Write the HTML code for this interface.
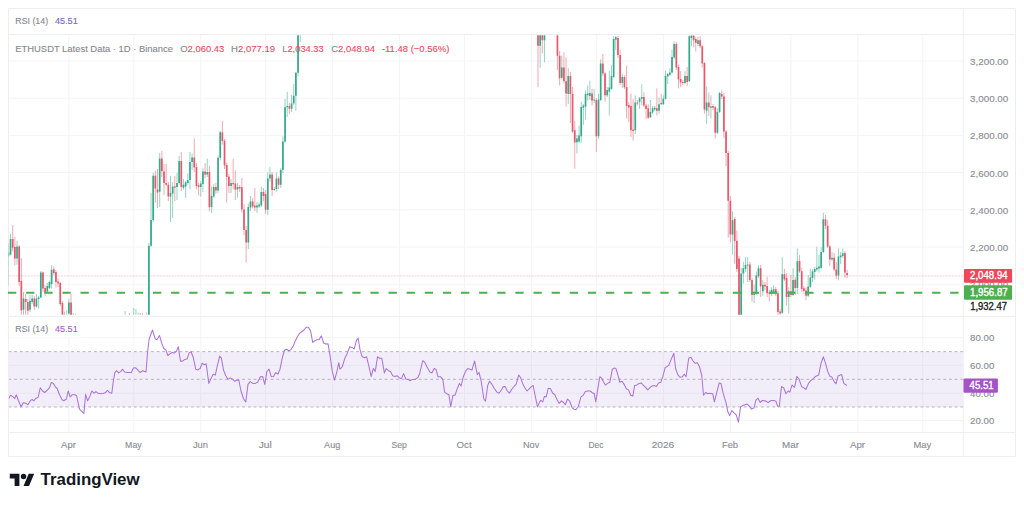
<!DOCTYPE html><html><head><meta charset="utf-8"><title>ETHUSDT</title><style>
html,body{margin:0;padding:0;background:#fff;}body{width:1024px;height:505px;overflow:hidden;position:relative;font-family:"Liberation Sans",sans-serif;}
svg{position:absolute;left:0;top:0;}text{font-family:"Liberation Sans",sans-serif;}
</style></head><body>
<svg width="1024" height="505" viewBox="0 0 1024 505">
<defs><clipPath id="mp"><rect x="8.5" y="35.3" width="954.7" height="279.5"/></clipPath>
<clipPath id="rp"><rect x="8.5" y="317" width="954.7" height="115"/></clipPath><filter id="bl" x="0" y="0" width="1024" height="505" filterUnits="userSpaceOnUse"><feGaussianBlur stdDeviation="0.35"/></filter></defs>
<path d="M68.9 34.5V432M133.8 34.5V432M200.8 34.5V432M265.6 34.5V432M332.6 34.5V432M399.6 34.5V432M464.5 34.5V432M531.5 34.5V432M596.4 34.5V432M663.4 34.5V432M730.4 34.5V432M790.9 34.5V432M857.9 34.5V432M922.8 34.5V432M8.5 61.0H963.2M8.5 98.2H963.2M8.5 135.4H963.2M8.5 172.6H963.2M8.5 209.8H963.2M8.5 247.0H963.2M8.5 284.2H963.2M8.5 337.6H963.2M8.5 365.4H963.2M8.5 393.2H963.2M8.5 420.6H963.2" stroke="#f4f4f6" stroke-width="1" fill="none"/>
<rect x="8.5" y="351.6" width="954.7" height="55.4" fill="#7e57c2" fill-opacity="0.1"/>
<path d="M8.5 351.6H963.2" stroke="#8d9098" stroke-width="0.8" stroke-dasharray="2.8 2.9" stroke-opacity="0.8"/>
<path d="M8.5 379.3H963.2" stroke="#8d9098" stroke-width="0.8" stroke-dasharray="2.8 2.9" stroke-opacity="0.8"/>
<path d="M8.5 407H963.2" stroke="#8d9098" stroke-width="0.8" stroke-dasharray="2.8 2.9" stroke-opacity="0.8"/>
<path d="M8.5 8.5H1015.5V456.5H8.5ZM8.5 34.5H1015.5M8.5 316.5H1015.5M8.5 432.5H1015.5M963.2 8.5V456.5" stroke="#eeeef1" stroke-width="1" fill="none"/>
<g clip-path="url(#mp)"><g filter="url(#bl)">
<path d="M8.37 243.0V285.5M10.53 233.8V255.5M17.02 240.8V264.7M23.50 292.0V330.0M29.99 295.0V312.0M32.15 295.0V304.0M36.47 294.0V307.6M38.64 296.0V308.6M40.80 271.0V298.0M47.28 283.0V292.5M49.44 280.5V289.0M51.61 265.3V288.5M66.74 310.6V330.0M68.90 298.6V330.0M73.22 313.0V330.0M125.10 311.0V330.0M133.75 308.0V330.0M135.91 309.0V330.0M140.24 313.0V330.0M148.88 243.0V330.0M151.04 193.0V247.0M153.21 172.6V222.0M159.69 153.0V207.0M170.50 175.8V222.0M172.66 182.3V218.0M176.99 172.8V200.0M179.15 156.0V184.5M183.47 178.8V189.4M185.63 181.0V197.8M187.79 173.4V184.7M189.96 152.0V189.4M192.12 153.5V170.0M200.76 181.0V196.6M202.93 168.3V192.0M207.25 158.6V177.0M211.57 186.5V213.0M213.73 184.0V198.0M218.06 155.5V193.0M220.22 130.8V160.5M231.03 179.3V193.0M237.51 183.0V197.8M248.32 203.5V249.0M250.48 196.0V211.0M256.97 202.0V212.8M259.13 202.5V208.0M261.29 186.8V207.0M267.78 172.3V215.0M269.94 167.0V181.6M274.26 186.8V191.0M276.42 172.3V191.5M280.75 168.0V188.0M282.91 136.3V173.0M285.07 99.0V143.0M287.23 91.8V117.0M291.56 95.0V112.0M293.72 84.0V105.0M295.88 72.0V110.8M298.04 -50.0V76.0M300.20 -50.0V42.0M540.15 -50.0V67.6M544.47 -50.0V62.3M561.77 55.8V79.5M568.25 68.2V104.0M576.90 135.0V153.3M579.06 125.6V143.0M581.22 101.8V142.6M583.38 104.0V125.0M585.55 90.5V119.6M587.71 85.4V100.6M589.87 80.7V100.0M594.19 88.8V103.0M598.52 93.5V139.0M600.68 59.3V101.0M607.16 87.0V97.0M609.33 70.6V115.5M611.49 65.3V90.0M613.65 36.2V78.0M615.81 36.0V50.0M622.30 73.6V87.8M635.27 95.3V134.0M639.59 97.0V109.0M641.75 84.3V105.4M650.40 100.0V118.0M652.56 106.0V114.0M654.72 106.0V111.0M659.04 97.7V113.7M663.37 95.3V105.0M665.53 70.6V99.5M667.69 73.0V84.0M669.85 68.2V76.0M672.01 49.8V73.5M674.18 41.5V59.0M684.98 71.2V84.0M689.31 -50.0V82.0M691.47 -50.0V46.3M697.95 36.8V46.0M706.60 86.4V123.8M710.92 95.3V118.4M717.41 108.3V134.0M719.57 92.0V113.0M732.54 211.4V254.6M741.19 268.0V330.0M743.35 261.8V283.4M745.51 257.2V272.0M747.67 257.2V282.0M754.16 284.7V303.0M756.32 271.6V295.0M758.48 265.0V278.0M762.81 280.0V295.8M771.45 287.3V296.0M773.61 285.3V294.0M782.26 257.2V314.0M788.75 287.3V313.4M793.07 268.3V296.0M797.39 248.4V294.0M808.20 275.3V297.0M810.36 268.7V288.0M812.52 269.0V282.0M814.69 266.6V279.7M816.85 246.6V271.4M819.01 255.0V272.6M821.17 247.2V269.0M823.33 212.7V253.0M831.98 252.0V261.0M838.47 248.4V280.3M840.63 252.0V264.0M842.79 248.4V258.0" stroke="#36aa8b" stroke-width="0.7" fill="none" stroke-opacity="0.75"/>
<path d="M12.70 225.0V251.5M14.86 236.8V265.5M19.18 245.0V286.0M21.34 258.0V330.0M25.67 294.0V330.0M27.83 299.0V330.0M34.31 296.0V310.0M42.96 271.5V292.0M45.12 285.3V296.0M53.77 266.4V275.0M55.93 270.0V287.5M58.09 278.6V287.0M60.25 282.0V306.0M62.41 301.0V330.0M64.58 311.5V330.0M71.06 294.0V330.0M75.39 314.0V330.0M129.43 313.0V330.0M138.07 312.5V330.0M142.40 313.0V330.0M146.72 312.5V330.0M155.37 170.7V202.5M157.53 169.0V208.0M161.85 151.0V177.0M164.01 164.0V195.0M166.18 164.0V186.0M168.34 182.0V201.0M174.82 175.8V201.3M181.31 152.0V191.0M194.28 138.3V172.0M196.44 163.0V189.4M198.60 183.0V195.4M205.09 163.0V178.0M209.41 166.0V211.4M215.90 183.0V194.0M222.38 121.0V144.6M224.54 139.0V169.0M226.70 162.5V202.5M228.87 174.0V193.0M233.19 158.8V189.4M235.35 170.4V200.0M239.67 185.0V192.0M241.84 178.0V212.5M244.00 204.0V235.0M246.16 226.0V262.7M252.64 198.3V208.5M254.81 188.0V211.0M263.45 188.0V201.4M265.61 190.0V213.9M272.10 172.0V196.0M278.58 176.4V189.0M289.39 103.0V114.0M537.99 -50.0V87.2M542.31 -50.0V53.4M557.44 -50.0V70.0M559.61 51.0V85.4M563.93 52.2V83.0M566.09 57.5V106.6M570.41 72.0V123.0M572.58 87.0V133.0M574.74 120.8V168.7M592.03 88.8V105.4M596.35 98.0V152.0M602.84 54.0V76.0M605.00 72.0V101.8M617.97 36.0V58.0M620.13 49.8V85.0M624.46 75.3V89.0M626.62 65.8V118.4M628.78 102.0V122.0M630.94 93.5V137.0M633.10 99.4V140.6M637.43 100.0V105.4M643.91 92.3V107.0M646.07 104.0V119.0M648.24 104.2V119.0M656.88 88.4V115.5M661.21 94.0V104.8M676.34 42.0V70.0M678.50 64.7V88.4M680.66 71.2V87.2M682.82 80.0V85.0M687.15 67.0V86.0M693.63 -50.0V47.4M695.79 37.0V51.6M700.12 36.2V48.0M702.28 45.0V67.6M704.44 62.0V113.7M708.76 92.3V116.0M713.09 104.2V110.0M715.25 106.0V138.6M721.73 90.5V99.0M723.90 93.0V138.0M726.06 130.0V166.0M728.22 151.0V237.6M730.38 196.0V242.3M734.70 217.0V263.8M736.87 230.4V272.0M739.03 256.0V330.0M749.84 261.8V282.0M752.00 278.0V301.7M760.64 265.0V297.0M764.97 282.0V290.0M767.13 276.8V297.0M769.29 290.0V301.7M775.78 287.3V296.0M777.94 291.0V330.0M780.10 309.0V330.0M784.42 269.0V281.0M786.58 273.0V305.6M790.91 274.9V297.0M795.23 277.0V295.0M799.55 255.0V273.0M801.72 267.8V292.0M803.88 286.0V294.0M806.04 287.3V300.0M825.50 215.0V229.0M827.66 220.0V248.0M829.82 245.0V266.0M834.14 253.0V271.0M836.30 262.0V279.0M844.95 251.0V278.0M847.11 269.9V277.8" stroke="#e7586c" stroke-width="0.7" fill="none" stroke-opacity="0.75"/>
<path d="M8.37 252.4V256.5M10.53 239.0V254.6M17.02 246.5V258.5M23.50 298.6V309.7M29.99 300.8V309.7M32.15 298.6V302.0M36.47 298.6V306.4M38.64 297.5V299.0M40.80 272.5V297.5M47.28 286.0V291.4M49.44 282.0V288.0M51.61 269.8V284.0M66.74 329.5V330.5M68.90 302.5V313.6M73.22 329.5V330.5M125.10 329.5V330.5M133.75 329.5V330.5M135.91 329.5V330.5M140.24 329.5V330.5M148.88 245.7V330.0M151.04 220.0V245.7M153.21 175.8V220.0M159.69 158.6V191.8M170.50 193.0V196.6M172.66 186.5V193.6M176.99 183.0V187.0M179.15 161.0V183.0M183.47 184.7V187.7M185.63 182.3V186.5M187.79 180.0V183.0M189.96 162.0V180.0M192.12 157.5V162.0M200.76 183.5V187.0M202.93 171.6V184.0M207.25 172.0V174.6M211.57 196.0V207.0M213.73 187.0V196.6M218.06 157.7V190.6M220.22 132.3V157.7M231.03 183.0V186.0M237.51 187.0V189.4M248.32 207.0V242.5M250.48 201.4V207.5M256.97 205.5V207.6M259.13 204.5V206.6M261.29 192.0V205.5M267.78 178.5V209.7M269.94 174.4V178.5M274.26 189.0V190.0M276.42 178.5V189.0M280.75 170.0V184.8M282.91 141.4V170.0M285.07 107.3V141.4M287.23 106.0V107.3M291.56 103.4V108.8M293.72 95.8V103.4M295.88 72.8V95.8M298.04 -50.0V72.8M300.20 -50.0V20.0M540.15 -50.0V45.7M544.47 -50.0V40.3M561.77 67.6V77.7M568.25 76.0V94.0M576.90 138.4V142.2M579.06 135.4V141.4M581.22 107.0V136.3M583.38 105.4V107.8M585.55 94.0V106.6M587.71 93.5V95.3M589.87 93.0V96.0M594.19 99.4V100.6M598.52 99.4V136.3M600.68 63.5V100.0M607.16 90.0V95.3M609.33 87.5V91.7M611.49 76.0V88.7M613.65 39.0V77.0M615.81 37.3V39.7M622.30 77.0V83.0M635.27 102.4V130.3M639.59 98.3V101.8M641.75 97.0V98.8M650.40 112.0V117.3M652.56 108.3V112.5M654.72 107.8V109.5M659.04 104.2V110.7M663.37 98.8V104.2M665.53 76.0V98.8M667.69 74.0V76.5M669.85 72.4V74.8M672.01 57.0V72.4M674.18 43.9V57.5M684.98 76.0V83.0M689.31 36.2V81.3M691.47 35.5V38.0M697.95 40.3V43.9M706.60 102.4V110.7M710.92 106.5V107.8M717.41 112.0V132.7M719.57 93.0V112.0M732.54 220.3V234.6M741.19 273.6V330.0M743.35 268.3V273.6M745.51 265.0V269.0M747.67 264.4V265.6M754.16 293.8V295.0M756.32 275.5V293.8M758.48 268.3V276.2M762.81 284.7V291.2M771.45 290.0V293.8M773.61 289.3V291.9M782.26 274.2V312.8M788.75 291.2V297.0M793.07 280.0V295.0M797.39 261.2V288.0M808.20 286.5V295.8M810.36 277.4V286.8M812.52 271.5V278.0M814.69 269.0V272.0M816.85 267.8V269.6M819.01 266.6V268.4M821.17 252.0V267.8M823.33 219.3V252.0M831.98 257.8V259.6M838.47 256.6V275.6M840.63 255.5V257.3M842.79 253.2V256.0" stroke="#36aa8b" stroke-width="1.7" fill="none"/>
<path d="M12.70 239.0V247.7M14.86 247.0V258.6M19.18 246.4V282.0M21.34 281.0V310.5M25.67 299.0V302.0M27.83 302.0V310.8M34.31 298.6V306.4M42.96 272.5V288.6M45.12 288.0V292.0M53.77 269.2V273.0M55.93 272.0V282.0M58.09 281.5V283.6M60.25 283.0V304.0M62.41 303.0V330.0M64.58 329.5V330.5M71.06 302.5V330.0M75.39 329.5V330.5M129.43 329.5V330.5M138.07 329.5V330.5M142.40 329.5V330.5M146.72 329.5V330.5M155.37 175.8V188.6M157.53 189.4V192.4M161.85 158.6V171.0M164.01 171.6V183.0M166.18 183.0V184.7M168.34 184.7V196.6M174.82 186.5V187.7M181.31 161.0V187.0M194.28 157.5V167.5M196.44 167.0V186.0M198.60 185.3V187.0M205.09 171.6V174.6M209.41 172.0V207.0M215.90 187.0V190.6M222.38 132.3V141.0M224.54 140.8V165.5M226.70 165.0V177.0M228.87 176.4V186.0M233.19 183.0V184.2M235.35 183.5V189.4M239.67 187.0V188.5M241.84 187.3V209.5M244.00 209.5V230.0M246.16 230.0V242.5M252.64 201.4V206.5M254.81 205.5V207.6M263.45 192.0V196.0M265.61 194.0V209.7M272.10 174.4V190.0M278.58 178.5V184.8M289.39 106.0V108.8M537.99 -50.0V45.7M542.31 -50.0V40.3M557.44 -50.0V55.8M559.61 55.8V78.3M563.93 67.6V81.3M566.09 81.3V93.5M570.41 76.0V94.0M572.58 94.0V131.5M574.74 130.3V142.6M592.03 93.5V100.6M596.35 100.0V136.3M602.84 63.5V73.6M605.00 73.6V95.3M617.97 38.0V55.0M620.13 55.0V83.0M624.46 77.0V87.2M626.62 87.0V106.0M628.78 105.0V107.5M630.94 106.0V130.3M633.10 129.5V131.0M637.43 102.4V103.6M643.91 97.0V105.4M646.07 105.4V109.0M648.24 108.3V117.8M656.88 108.3V110.7M661.21 103.0V104.2M676.34 43.9V67.6M678.50 67.0V79.5M680.66 79.0V82.5M682.82 82.0V83.0M687.15 76.0V82.0M693.63 35.5V40.3M695.79 39.0V42.7M700.12 40.3V46.3M702.28 46.3V63.5M704.44 63.0V109.5M708.76 102.4V107.2M713.09 106.0V107.8M715.25 107.2V132.7M721.73 94.0V96.5M723.90 96.5V131.5M726.06 131.5V153.0M728.22 153.0V200.8M730.38 200.8V234.6M734.70 219.0V241.0M736.87 241.0V269.0M739.03 258.5V330.0M749.84 264.4V280.0M752.00 280.0V295.0M760.64 268.3V286.6M764.97 284.7V286.6M767.13 286.0V293.2M769.29 292.5V293.8M775.78 289.3V293.8M777.94 293.2V312.0M780.10 311.5V313.4M784.42 274.2V279.5M786.58 278.0V297.0M790.91 291.2V295.0M795.23 279.7V288.0M799.55 261.0V271.5M801.72 271.2V289.0M803.88 288.3V291.0M806.04 290.5V295.8M825.50 219.3V225.8M827.66 225.8V246.6M829.82 246.6V259.6M834.14 257.7V269.6M836.30 269.6V275.6M844.95 253.0V272.6M847.11 273.0V275.1" stroke="#e7586c" stroke-width="1.7" fill="none"/>
</g></g>
<path d="M8.5 275.9H963.2" stroke="#f23645" stroke-width="0.9" stroke-dasharray="0.8 0.7" stroke-opacity="0.36"/>
<path d="M8 292.8H963.2" stroke="#4caf50" stroke-width="2.1" stroke-dasharray="8.3 9.82"/>
<g clip-path="url(#rp)"><polyline points="8.7,398.6 10.5,395.3 12.6,396.4 14.8,398.6 16.3,394.7 18.5,400.8 21.1,406.7 23.5,402.5 26.1,403.4 27.9,404.7 30.5,400.4 32.2,399.5 33.8,400.8 35.9,398.2 38.1,397.5 40.3,387.7 42.5,391.0 44.7,392.5 47.5,389.9 49.7,387.3 51.2,382.5 53.4,383.4 55.6,387.3 57.1,388.2 59.3,394.3 62.1,399.7 63.8,400.8 66.4,399.0 68.2,391.0 70.2,396.9 72.3,394.7 75.2,394.7 76.7,396.0 78.4,404.1 79.5,409.1 83.9,413.4 85.6,394.3 87.6,400.8 89.8,396.4 91.9,391.0 94.1,393.2 95.9,391.6 98.0,393.2 100.7,393.8 103.5,393.2 105.7,392.5 107.4,390.3 109.4,392.5 111.8,393.2 113.3,381.2 114.8,372.9 116.6,370.7 118.7,372.9 120.9,371.4 122.7,369.2 124.6,372.0 127.5,372.5 131.4,372.5 133.3,368.1 135.5,367.7 137.7,369.9 139.9,372.5 142.7,370.7 146.0,372.0 147.5,352.9 149.2,338.7 152.5,330.0 155.1,338.7 156.9,339.8 159.5,335.4 161.7,343.1 163.8,348.5 166.0,350.2 167.8,355.5 170.0,353.9 172.2,352.4 174.4,352.9 176.5,351.1 178.3,346.8 180.5,361.1 182.6,361.1 184.8,359.4 187.0,359.0 189.2,352.9 191.1,351.8 193.5,358.3 195.7,369.2 197.9,369.9 200.1,368.5 202.2,363.3 204.4,364.8 206.2,363.8 208.8,383.4 211.0,378.6 213.1,374.2 215.3,375.1 217.5,364.8 219.7,356.1 221.4,358.3 223.6,370.3 225.8,375.7 228.0,379.4 230.1,377.9 232.3,379.0 234.5,381.2 236.7,380.1 238.8,380.1 241.0,391.0 243.6,399.0 245.8,401.9 248.0,384.4 250.2,381.6 252.8,383.4 255.4,383.4 257.6,382.3 260.4,376.8 262.6,376.4 264.8,384.4 266.9,371.4 269.1,369.2 271.3,376.8 273.5,376.4 275.7,372.5 277.8,374.2 280.0,369.2 282.2,358.3 284.4,350.2 286.6,349.2 288.7,350.7 290.9,349.6 293.1,346.3 295.3,340.9 297.5,336.5 299.6,333.3 301.8,331.5 304.0,330.0 306.2,327.2 308.3,327.2 310.5,330.6 312.7,342.4 314.9,340.9 317.1,339.8 319.2,339.4 321.4,335.9 323.6,343.1 325.8,344.1 328.0,343.7 330.1,356.1 332.3,371.4 334.5,380.1 336.7,372.5 338.8,362.7 340.0,369.2 342.2,367.0 344.8,358.3 347.0,353.9 349.8,346.8 352.0,347.4 354.2,348.9 356.3,340.9 358.1,338.0 360.0,349.6 362.2,356.8 364.4,357.7 366.6,356.8 368.8,365.9 371.2,376.4 373.3,368.5 375.3,371.4 377.5,356.8 379.7,358.3 381.8,358.3 384.4,372.9 386.2,368.5 388.4,370.7 390.5,371.4 392.7,375.7 394.9,376.4 397.1,375.7 399.3,377.9 401.4,378.6 403.6,373.6 405.8,379.0 408.0,379.4 410.2,380.7 412.3,379.4 415.2,379.4 418.0,377.3 419.5,374.2 422.8,360.5 425.0,362.7 427.1,367.0 429.8,372.0 431.9,372.9 434.1,368.5 435.9,369.2 438.0,376.8 440.7,376.8 442.8,379.4 444.6,392.1 446.8,393.8 448.9,394.7 450.7,406.9 452.9,395.3 455.0,395.3 457.2,388.8 459.4,383.4 461.1,386.0 463.3,376.8 465.5,371.4 467.7,368.5 469.8,369.2 472.0,369.9 474.6,361.1 477.3,374.6 479.0,372.5 481.2,381.2 483.8,399.0 485.5,401.2 487.7,385.5 489.5,381.2 491.6,383.8 494.2,388.2 496.9,392.1 499.0,393.2 501.2,390.3 503.4,386.6 505.1,386.6 507.3,391.0 509.5,393.2 510.0,392.1 512.2,388.8 514.4,386.0 516.1,384.4 518.7,375.1 520.5,377.3 522.6,383.4 524.8,387.7 527.0,391.0 529.2,388.8 531.4,386.6 533.1,385.5 535.3,396.4 537.5,406.9 539.6,401.9 540.9,400.4 542.7,401.9 544.4,396.4 546.2,396.9 548.3,388.2 550.5,388.8 552.7,393.2 554.9,394.7 557.1,399.7 559.2,403.4 561.4,400.8 563.6,402.5 565.3,404.7 567.5,399.0 569.7,401.2 571.9,407.3 574.1,409.5 576.2,409.5 578.4,406.2 581.0,396.9 583.2,395.3 585.4,391.6 588.0,391.0 590.2,391.0 592.8,393.2 594.1,393.2 595.8,401.9 598.0,387.7 599.8,376.8 601.5,377.9 603.7,382.3 605.4,385.1 607.6,383.4 609.8,382.3 612.4,369.2 614.1,368.1 615.9,368.5 618.1,375.7 619.8,382.3 622.0,381.2 624.2,384.4 626.3,388.8 628.5,389.9 630.7,395.3 632.9,396.0 634.6,385.5 636.8,385.1 639.0,383.4 641.2,382.9 643.3,385.1 645.5,387.3 647.7,389.9 649.9,387.7 652.0,386.0 654.2,385.5 656.4,386.6 658.6,382.9 660.8,382.3 662.9,376.4 665.1,367.7 667.3,366.4 669.0,364.8 671.2,359.4 673.8,353.3 675.6,368.5 677.8,374.6 679.9,377.3 682.2,376.8 684.4,374.2 686.1,376.8 688.7,358.3 690.9,357.2 693.1,361.1 695.3,363.3 697.4,362.7 699.6,367.0 701.8,375.7 703.5,395.3 705.7,392.5 707.9,393.8 710.1,393.2 712.7,393.8 714.4,401.9 716.6,393.2 719.2,382.9 721.0,383.4 723.1,393.2 725.8,401.9 727.9,412.1 729.7,415.6 731.9,410.6 734.0,412.8 736.2,414.9 738.4,422.1 740.6,406.9 742.7,405.6 744.9,404.7 747.1,404.1 749.3,406.2 751.5,409.1 754.1,407.8 755.8,400.4 758.0,398.2 760.2,402.5 762.4,400.4 765.0,400.8 768.2,402.5 771.1,400.4 773.7,400.4 775.9,401.2 777.6,406.2 779.3,406.2 781.5,386.6 783.7,387.7 785.9,393.8 788.1,391.0 789.8,392.1 792.0,385.1 794.6,387.3 796.8,376.4 799.0,379.0 801.6,386.6 803.7,387.7 805.9,389.5 808.5,383.4 810.7,380.7 813.3,378.6 815.5,376.4 818.6,375.1 821.2,362.7 823.4,356.8 825.5,363.3 827.7,371.4 829.9,376.4 831.6,376.8 834.2,381.6 836.0,383.8 838.2,375.7 841.7,374.6 843.8,383.4 846.9,385.5" fill="none" stroke="#ab74d8" stroke-width="1.05" stroke-linejoin="round"/></g>
<text x="970.1" y="64.9" fill="#888b93" font-size="9.9" stroke="#888b93" stroke-width="0.12" textLength="38.2" lengthAdjust="spacingAndGlyphs">3,200.00</text>
<text x="970.1" y="102.1" fill="#888b93" font-size="9.9" stroke="#888b93" stroke-width="0.12" textLength="38.2" lengthAdjust="spacingAndGlyphs">3,000.00</text>
<text x="970.1" y="139.3" fill="#888b93" font-size="9.9" stroke="#888b93" stroke-width="0.12" textLength="38.2" lengthAdjust="spacingAndGlyphs">2,800.00</text>
<text x="970.1" y="176.5" fill="#888b93" font-size="9.9" stroke="#888b93" stroke-width="0.12" textLength="38.2" lengthAdjust="spacingAndGlyphs">2,600.00</text>
<text x="970.1" y="213.7" fill="#888b93" font-size="9.9" stroke="#888b93" stroke-width="0.12" textLength="38.2" lengthAdjust="spacingAndGlyphs">2,400.00</text>
<text x="970.1" y="250.9" fill="#888b93" font-size="9.9" stroke="#888b93" stroke-width="0.12" textLength="38.2" lengthAdjust="spacingAndGlyphs">2,200.00</text>
<text x="970.1" y="341.0" fill="#888b93" font-size="9.9" stroke="#888b93" stroke-width="0.12" textLength="24.2" lengthAdjust="spacingAndGlyphs">80.00</text>
<text x="970.1" y="368.8" fill="#888b93" font-size="9.9" stroke="#888b93" stroke-width="0.12" textLength="24.2" lengthAdjust="spacingAndGlyphs">60.00</text>
<text x="970.1" y="396.6" fill="#888b93" font-size="9.9" stroke="#888b93" stroke-width="0.12" textLength="24.2" lengthAdjust="spacingAndGlyphs">40.00</text>
<text x="970.1" y="424.0" fill="#888b93" font-size="9.9" stroke="#888b93" stroke-width="0.12" textLength="24.2" lengthAdjust="spacingAndGlyphs">20.00</text>
<text x="970.1" y="288.1" fill="#888b93" font-size="9.9" stroke="#888b93" stroke-width="0.12" textLength="38.2" lengthAdjust="spacingAndGlyphs">2,000.00</text>
<rect x="964" y="268.9" width="48.1" height="13.9" rx="1" fill="#f0465a"/>
<text x="970" y="279.4" fill="#fff" font-size="10.1" stroke="#fff" stroke-width="0.35" textLength="37.7" lengthAdjust="spacingAndGlyphs">2,048.94</text>
<rect x="964" y="285.3" width="48.1" height="14.4" rx="1" fill="#4caf50"/>
<text x="970" y="296.1" fill="#fff" font-size="10.1" stroke="#fff" stroke-width="0.35" textLength="37.7" lengthAdjust="spacingAndGlyphs">1,956.87</text>
<text x="970.2" y="310.4" fill="#1c1f28" font-size="10.1" stroke="#1c1f28" stroke-width="0.35" textLength="36.8" lengthAdjust="spacingAndGlyphs">1,932.47</text>
<rect x="963.5" y="378.5" width="34.4" height="14.2" rx="1" fill="#a653c8"/>
<text x="969.6" y="389.3" fill="#fff" font-size="10.1" stroke="#fff" stroke-width="0.35" textLength="24" lengthAdjust="spacingAndGlyphs">45.51</text>
<text x="61.1" y="448.3" fill="#888b93" font-size="9.8" stroke="#888b93" stroke-width="0.12" textLength="14.7" lengthAdjust="spacingAndGlyphs">Apr</text>
<text x="125.1" y="448.3" fill="#888b93" font-size="9.8" stroke="#888b93" stroke-width="0.12" textLength="16.6" lengthAdjust="spacingAndGlyphs">May</text>
<text x="192.9" y="448.3" fill="#888b93" font-size="9.8" stroke="#888b93" stroke-width="0.12" textLength="15" lengthAdjust="spacingAndGlyphs">Jun</text>
<text x="258.7" y="448.3" fill="#888b93" font-size="9.8" stroke="#888b93" stroke-width="0.12" textLength="13.1" lengthAdjust="spacingAndGlyphs">Jul</text>
<text x="324.1" y="448.3" fill="#888b93" font-size="9.8" stroke="#888b93" stroke-width="0.12" textLength="16.2" lengthAdjust="spacingAndGlyphs">Aug</text>
<text x="391.4" y="448.3" fill="#888b93" font-size="9.8" stroke="#888b93" stroke-width="0.12" textLength="15.6" lengthAdjust="spacingAndGlyphs">Sep</text>
<text x="456.6" y="448.3" fill="#888b93" font-size="9.8" stroke="#888b93" stroke-width="0.12" textLength="15" lengthAdjust="spacingAndGlyphs">Oct</text>
<text x="523.0" y="448.3" fill="#888b93" font-size="9.8" stroke="#888b93" stroke-width="0.12" textLength="16.3" lengthAdjust="spacingAndGlyphs">Nov</text>
<text x="588.5" y="448.3" fill="#888b93" font-size="9.8" stroke="#888b93" stroke-width="0.12" textLength="15" lengthAdjust="spacingAndGlyphs">Dec</text>
<text x="651.7" y="448.3" fill="#888b93" font-size="9.8" stroke="#888b93" stroke-width="0.12" textLength="22.5" lengthAdjust="spacingAndGlyphs">2026</text>
<text x="721.9" y="448.3" fill="#888b93" font-size="9.8" stroke="#888b93" stroke-width="0.12" textLength="16.2" lengthAdjust="spacingAndGlyphs">Feb</text>
<text x="782.1" y="448.3" fill="#888b93" font-size="9.8" stroke="#888b93" stroke-width="0.12" textLength="16.9" lengthAdjust="spacingAndGlyphs">Mar</text>
<text x="850.0" y="448.3" fill="#888b93" font-size="9.8" stroke="#888b93" stroke-width="0.12" textLength="15" lengthAdjust="spacingAndGlyphs">Apr</text>
<text x="913.5" y="448.3" fill="#888b93" font-size="9.8" stroke="#888b93" stroke-width="0.12" textLength="17.8" lengthAdjust="spacingAndGlyphs">May</text>
<rect x="9" y="36" width="455" height="24" fill="#fff" fill-opacity="0.0"/>
<rect x="9.5" y="318" width="75" height="19.5" fill="#fff"/>
<text x="15.3" y="23.8" fill="#86888f" font-size="9.6" stroke="#86888f" stroke-width="0.12" textLength="32.8" lengthAdjust="spacingAndGlyphs">RSI (14)</text>
<text x="54.9" y="23.8" fill="#7b66c9" font-size="9.6" stroke="#7b66c9" stroke-width="0.12" textLength="22.9" lengthAdjust="spacingAndGlyphs">45.51</text>
<text x="15.3" y="331.8" fill="#86888f" font-size="9.6" stroke="#86888f" stroke-width="0.12" textLength="32.8" lengthAdjust="spacingAndGlyphs">RSI (14)</text>
<text x="54.9" y="331.8" fill="#a860c9" font-size="9.6" stroke="#a860c9" stroke-width="0.12" textLength="22.9" lengthAdjust="spacingAndGlyphs">45.51</text>
<text x="15.25" y="52" fill="#86888f" font-size="9.5" stroke="#86888f" stroke-width="0.12" textLength="157.75" lengthAdjust="spacingAndGlyphs">ETHUSDT Latest Data · 1D · Binance</text>
<text x="180.25" y="52" font-size="9.5" textLength="44" lengthAdjust="spacingAndGlyphs" stroke-width="0.12"><tspan fill="#86888f" stroke="#86888f">O</tspan><tspan fill="#ea4a5f" stroke="#ea4a5f">2,060.43</tspan></text>
<text x="231.1" y="52" font-size="9.5" textLength="43.9" lengthAdjust="spacingAndGlyphs" stroke-width="0.12"><tspan fill="#86888f" stroke="#86888f">H</tspan><tspan fill="#ea4a5f" stroke="#ea4a5f">2,077.19</tspan></text>
<text x="282.25" y="52" font-size="9.5" textLength="41.5" lengthAdjust="spacingAndGlyphs" stroke-width="0.12"><tspan fill="#86888f" stroke="#86888f">L</tspan><tspan fill="#ea4a5f" stroke="#ea4a5f">2,034.33</tspan></text>
<text x="331.25" y="52" font-size="9.5" textLength="43.75" lengthAdjust="spacingAndGlyphs" stroke-width="0.12"><tspan fill="#86888f" stroke="#86888f">C</tspan><tspan fill="#ea4a5f" stroke="#ea4a5f">2,048.94</tspan></text>
<text x="381.9" y="52" fill="#ea4a5f" font-size="9.5" stroke="#ea4a5f" stroke-width="0.12" textLength="67.5" lengthAdjust="spacingAndGlyphs">-11.48 (−0.56%)</text>
<g transform="translate(9.8,471) scale(0.687)" fill="#131722"><path d="M14 22H7V11H0V4h14v18zM28 22h-8l7.5-18h8L28 22z"/><circle cx="20" cy="8" r="4"/></g>
<text x="40.6" y="485.2" fill="#131722" font-size="16" font-weight="bold" textLength="99" lengthAdjust="spacingAndGlyphs">TradingView</text>
</svg></body></html>
